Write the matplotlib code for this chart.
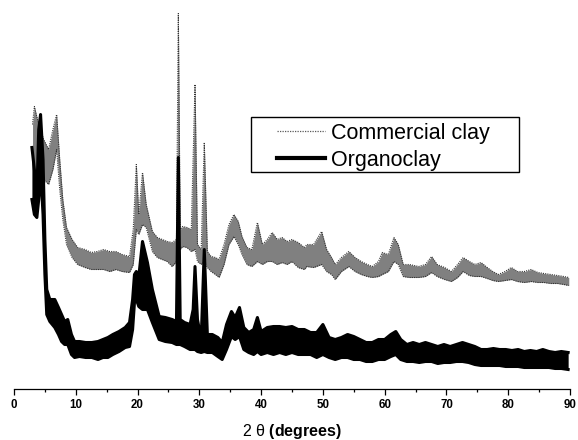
import matplotlib
matplotlib.use("Agg")
import matplotlib.pyplot as plt
from matplotlib.patches import Rectangle
from matplotlib.lines import Line2D
from matplotlib.ticker import MultipleLocator

plt.rcParams["font.family"] = ["Liberation Sans", "DejaVu Sans"]
plt.rcParams["mathtext.fontset"] = "custom"
plt.rcParams["mathtext.rm"] = "Liberation Sans"
plt.rcParams["mathtext.bf"] = "Liberation Sans:bold"

# XRD patterns: 2theta (deg), upper / lower edge of the noise band (a.u.)
clay_theta = [3.0, 3.3, 4.0, 4.8, 5.6, 6.3, 6.9, 7.4, 7.9, 8.5, 9.4, 10.3, 11.5, 12.5, 13.5,
              14.5, 15.5, 16.5, 17.5, 18.7, 19.3, 19.8, 20.2, 20.8, 21.4, 22.4, 23.2, 24.0,
              24.8, 25.6, 26.3, 26.6, 26.9, 27.3, 28.0, 28.7, 29.3, 29.7, 30.3, 30.8, 31.3,
              31.9, 32.6, 33.2, 34.0, 34.8, 35.6, 36.3, 36.9, 37.7, 38.5, 39.4, 40.2, 41.0,
              41.8, 42.6, 43.4, 44.2, 45.0, 46.0, 47.0, 47.4, 48.5, 49.8, 50.6, 51.4, 52.0,
              53.0, 54.2, 55.2, 56.2, 57.2, 58.0, 59.0, 59.6, 60.6, 61.5, 62.2, 63.0, 64.0,
              65.5, 66.6, 67.6, 68.5, 69.7, 70.8, 71.8, 72.7, 73.7, 74.6, 75.6, 76.6, 77.5,
              78.4, 79.5, 80.5, 81.5, 82.6, 83.7, 84.8, 85.8, 86.9, 88.0, 89.0, 89.8]
clay_hi = [264, 282, 264, 249, 239, 259, 274, 229, 189, 161, 149, 141, 139, 136, 137,
           139, 137, 137, 134, 132, 159, 224, 174, 216, 184, 157, 151, 149,
           147, 146, 149, 375, 159, 162, 161, 159, 304, 144, 139, 246, 137,
           132, 131, 129, 144, 164, 174, 167, 152, 141, 139, 166, 144, 149,
           156, 149, 151, 147, 149, 146, 141, 144, 144, 157, 139, 131, 124,
           131, 137, 131, 127, 124, 122, 127, 136, 134, 151, 144, 124, 124,
           122, 124, 132, 124, 121, 117, 124, 131, 127, 124, 126, 121, 117,
           114, 117, 121, 117, 117, 119, 116, 115, 114, 113, 112, 111]
clay_lo = [229, 219, 214, 209, 204, 219, 239, 199, 169, 144, 131, 124, 121, 119, 119,
           119, 117, 119, 117, 116, 124, 159, 154, 164, 161, 137, 131, 129,
           127, 122, 127, 149, 139, 142, 141, 137, 139, 127, 124, 127, 121,
           117, 114, 111, 124, 144, 152, 144, 134, 124, 122, 127, 124, 127,
           127, 124, 126, 124, 127, 121, 119, 122, 121, 124, 117, 114, 109,
           117, 122, 117, 114, 112, 111, 112, 114, 117, 127, 124, 112, 111,
           111, 112, 116, 112, 109, 107, 111, 117, 113, 112, 112, 110, 108,
           107, 108, 109, 107, 106, 107, 106, 106, 105, 105, 104, 103]

organo_theta = [2.9, 3.3, 3.7, 4.0, 4.3, 4.7, 5.0, 5.3, 5.8, 6.6, 7.2, 7.7, 8.2, 8.7, 9.3,
                9.8, 10.6, 11.6, 12.6, 13.6, 14.4, 15.2, 16.0, 17.0, 18.0, 18.7, 19.2, 19.5,
                19.8, 20.2, 20.8, 21.6, 22.4, 23.5, 24.5, 25.6, 26.3, 26.6, 26.9, 27.6, 28.5,
                29.0, 29.3, 29.7, 30.3, 30.8, 31.3, 32.1, 33.0, 33.7, 34.4, 35.2, 35.8, 36.5,
                37.2, 38.0, 38.8, 39.4, 40.0, 41.0, 42.0, 43.0, 44.0, 45.0, 46.0, 47.0, 48.0,
                49.0, 50.0, 51.0, 52.0, 53.0, 54.0, 55.0, 56.0, 57.0, 58.0, 59.0, 60.0, 61.0,
                61.8, 62.6, 63.6, 64.6, 65.6, 66.6, 67.6, 68.6, 69.6, 70.6, 71.6, 72.6, 73.6,
                74.6, 75.6, 76.6, 77.6, 78.6, 79.6, 80.6, 81.6, 82.6, 83.6, 84.6, 85.6, 86.6,
                87.6, 88.6, 89.7]
organo_hi = [241, 219, 194, 259, 274, 229, 149, 99, 89, 89, 81, 74, 67, 69, 54,
             47, 47, 46, 46, 47, 49, 51, 54, 57, 61, 66, 89, 114,
             117, 112, 147, 126, 99, 72, 71, 69, 67, 231, 69, 66, 64,
             79, 122, 69, 49, 139, 54, 54, 51, 46, 64, 77, 71, 81,
             61, 56, 59, 71, 57, 61, 62, 62, 61, 62, 59, 59, 56,
             56, 64, 51, 49, 51, 54, 52, 49, 46, 46, 49, 49, 54,
             57, 49, 44, 46, 44, 46, 44, 42, 44, 42, 44, 46, 44,
             42, 39, 39, 40, 39, 39, 38, 39, 37, 38, 37, 39, 37,
             36, 37, 36]
organo_lo = [189, 174, 171, 189, 219, 174, 114, 74, 67, 61, 54, 47, 44, 44, 34,
             31, 32, 31, 31, 29, 31, 31, 34, 37, 41, 42, 59, 86,
             89, 82, 79, 79, 66, 49, 47, 46, 44, 44, 44, 42, 39,
             39, 39, 37, 36, 37, 36, 36, 32, 29, 39, 52, 49, 52,
             39, 36, 34, 37, 34, 36, 34, 36, 34, 36, 34, 34, 34,
             31, 34, 31, 29, 31, 31, 29, 29, 27, 27, 29, 29, 32,
             34, 29, 27, 27, 26, 27, 27, 25, 26, 26, 27, 27, 26,
             24, 23, 23, 23, 23, 22, 22, 22, 21, 21, 21, 21, 21,
             20, 20, 19]

xticks = [0, 10, 20, 30, 40, 50, 60, 70, 80, 90]
series_names = ["Commercial clay", "Organoclay"]

fig = plt.figure(figsize=(5.78, 4.40), dpi=100)
ax = fig.add_axes([14 / 578, 1 - 388.5 / 440, 556 / 578, 388.5 / 440])

# commercial clay: grey speckled band with dotted edges
ax.fill_between(clay_theta, clay_lo, clay_hi, color="0.5", lw=0, zorder=2)
ax.plot(clay_theta, clay_hi, color="0.2", lw=0.8, ls=(0, (1, 1)), zorder=3)
ax.plot(clay_theta, clay_lo, color="0.2", lw=0.8, ls=(0, (1, 1)), zorder=3)

# organoclay: thick black band
ax.fill_between(organo_theta, organo_lo, organo_hi, color="black", lw=0, zorder=4)
ax.plot(organo_theta, organo_hi, color="black", lw=2.2, zorder=5, solid_joinstyle="round")
ax.plot(organo_theta, organo_lo, color="black", lw=2.2, zorder=5, solid_joinstyle="round")

ax.set_xlim(0, 90)
ax.set_ylim(0, 388.5)
ax.set_xticks(xticks)
ax.xaxis.set_minor_locator(MultipleLocator(5))
ax.tick_params(axis="x", which="major", length=4.3, width=0.9, pad=3, labelsize=8.3)
ax.tick_params(axis="x", which="minor", length=2.4, width=0.9)
for lab in ax.get_xticklabels():
    lab.set_fontweight("bold")
ax.set_yticks([])
for side in ["left", "top", "right"]:
    ax.spines[side].set_visible(False)
ax.spines["bottom"].set_linewidth(0.9)
ax.set_xlabel(r"2 θ $\mathbf{(degrees)}$", fontsize=11.5, labelpad=8.5)

# legend: frameless legend plus a separate box, as in the original
handles = [Line2D([], [], color="0.35", lw=0.9, ls=(0, (1, 1))),
           Line2D([], [], color="black", lw=3)]
ax.legend(handles, series_names, loc="upper left", bbox_to_anchor=(0.473, 0.684),
          frameon=False, fontsize=15.5, borderpad=0, borderaxespad=0,
          handlelength=2.25, handletextpad=0.25, labelspacing=0.28)
ax.add_patch(Rectangle((0.4265, 0.558), 0.482, 0.141, transform=ax.transAxes,
                       fill=False, ec="black", lw=1, zorder=10))

fig.savefig("out.png", dpi=100)
